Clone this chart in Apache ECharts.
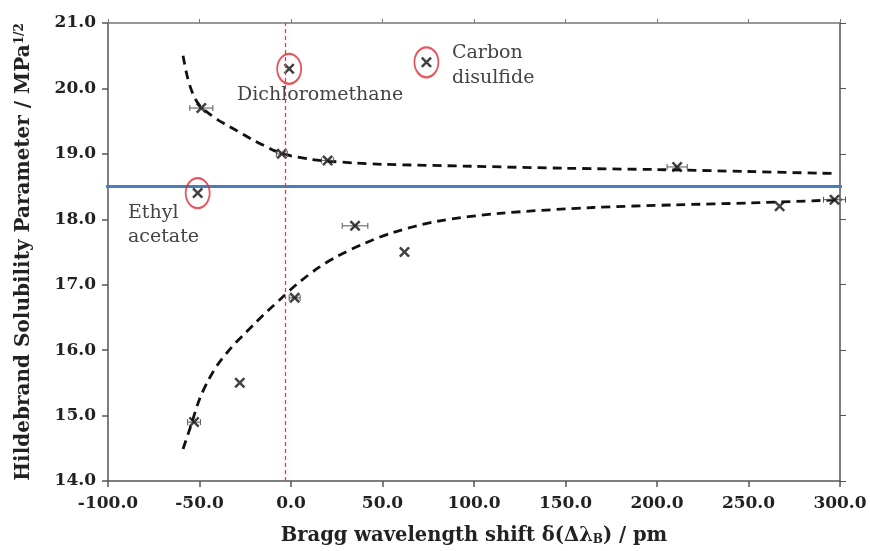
<!DOCTYPE html>
<html>
<head>
<meta charset="utf-8">
<script src="https://cdn.jsdelivr.net/npm/echarts@6/dist/echarts.min.js"></script>
<style>
  html, body { margin: 0; padding: 0; background: #fff; }
  #main { width: 870px; height: 551px; }
</style>
</head>
<body>
<div id="main"></div>
<script>
// measured points (x: Bragg shift in pm, y: solubility parameter)
var upperPts = [[-49, 19.7], [-5, 19.0], [20, 18.9], [211, 18.8]]
var lowerPts = [[-53, 14.9], [-28, 15.5], [2, 16.8], [35, 17.9], [62, 17.5], [267, 18.2], [297, 18.3]]
var circledPts = [[-1, 20.3], [74, 20.4], [-51, 18.4]] // dichloromethane, carbon disulfide, ethyl acetate
// x error bars: [x, y, half width]
var xErrors = [[-49, 19.7, 6.3], [-5, 19.0, 3], [20, 18.9, 3.3], [211, 18.8, 5.5],
  [-53, 14.9, 3.5], [2, 16.8, 3], [35, 17.9, 7], [297, 18.3, 6]]
// dashed trend curves
var upperFit = [[-59, 20.5], [-57, 20.22], [-55, 20.02], [-53, 19.88], [-51, 19.78], [-49, 19.71],
  [-45, 19.62], [-40, 19.52], [-35, 19.44], [-30, 19.36], [-25, 19.28], [-20, 19.2], [-15, 19.13],
  [-10, 19.06], [-5, 19.01], [0, 18.97], [10, 18.92], [20, 18.89], [35, 18.86], [50, 18.84],
  [100, 18.81], [150, 18.78], [200, 18.76], [250, 18.73], [296, 18.7]]
var lowerFit = [[-59, 14.49], [-55, 14.82], [-50, 15.25], [-45, 15.55], [-40, 15.78], [-35, 15.96],
  [-30, 16.12], [-25, 16.26], [-20, 16.4], [-15, 16.54], [-10, 16.67], [-5, 16.8], [0, 16.93],
  [5, 17.05], [15, 17.26], [25, 17.43], [40, 17.63], [56, 17.8], [80, 17.97], [114, 18.09],
  [165, 18.18], [210, 18.22], [251, 18.25], [302, 18.3]]
var refLine = [[-107, 18.5], [305, 18.5]] // blue horizontal level
var zeroShift = -3 // red dashed vertical

var FONT = 'DejaVu Serif'
var crossSymbol = 'path://M0,1.6L1.6,0L5,3.4L8.4,0L10,1.6L6.6,5L10,8.4L8.4,10L5,6.6L1.6,10L0,8.4L3.4,5Z'

var chart = echarts.init(document.getElementById('main'))

var axisLabel = {
  fontFamily: FONT,
  fontWeight: 'bold',
  fontSize: 17,
  color: '#222',
  formatter: function (v) { return v.toFixed(1) }
}

chart.setOption({
  animation: false,
  grid: { left: 108, right: 30, top: 23, bottom: 70 },
  xAxis: [
    {
      type: 'value',
      min: -100,
      max: 300,
      interval: 50,
      position: 'bottom',
      axisLine: { show: true, onZero: false, lineStyle: { color: '#555', width: 1.5 } },
      axisTick: { show: true, length: 6, lineStyle: { color: '#555', width: 1.5 } },
      axisLabel: Object.assign({ margin: 14 }, axisLabel),
      splitLine: { show: false },
      name: 'Bragg wavelength shift δ(Δλ{sub|B}) / pm',
      nameLocation: 'middle',
      nameGap: 45,
      nameTextStyle: {
        fontFamily: FONT,
        fontWeight: 'bold',
        fontSize: 19.5,
        color: '#222',
        rich: {
          sub: { fontFamily: FONT, fontWeight: 'bold', fontSize: 12, color: '#222', verticalAlign: 'bottom', lineHeight: 4 }
        }
      }
    },
    {
      type: 'value',
      min: -100,
      max: 300,
      interval: 50,
      position: 'top',
      axisLine: { show: true, onZero: false, lineStyle: { color: '#777', width: 1.5 } },
      axisTick: { show: true, length: 4, lineStyle: { color: '#777' } },
      axisLabel: { show: false },
      splitLine: { show: false }
    }
  ],
  yAxis: [
    {
      type: 'value',
      min: 14,
      max: 21,
      interval: 1,
      position: 'left',
      axisLine: { show: true, onZero: false, lineStyle: { color: '#555', width: 1.5 } },
      axisTick: { show: true, length: 6, lineStyle: { color: '#555', width: 1.5 } },
      axisLabel: Object.assign({ margin: 12 }, axisLabel),
      splitLine: { show: false },
      name: 'Hildebrand Solubility Parameter / MPa{sup|1/2}',
      nameLocation: 'middle',
      nameGap: 74,
      nameTextStyle: {
        fontFamily: FONT,
        fontWeight: 'bold',
        fontSize: 20,
        color: '#222',
        rich: {
          sup: { fontFamily: FONT, fontWeight: 'bold', fontSize: 12, color: '#222', verticalAlign: 'top', lineHeight: 9 }
        }
      }
    },
    {
      type: 'value',
      min: 14,
      max: 21,
      interval: 1,
      position: 'right',
      axisLine: { show: true, onZero: false, lineStyle: { color: '#555', width: 1.5 } },
      axisTick: { show: true, length: 6, lineStyle: { color: '#555' } },
      axisLabel: { show: false },
      splitLine: { show: false }
    }
  ],
  graphic: [
    { type: 'text', left: 237, top: 86, style: { text: 'Dichloromethane', font: '19px "DejaVu Serif"', fill: '#444' } },
    { type: 'text', left: 452, top: 41, style: { text: 'Carbon\ndisulfide', font: '19px "DejaVu Serif"', fill: '#444', lineHeight: 25 } },
    { type: 'text', left: 128, top: 201, style: { text: 'Ethyl\nacetate', font: '19px "DejaVu Serif"', fill: '#444', lineHeight: 24 } }
  ],
  series: [
    {
      // blue reference level
      type: 'line',
      data: refLine,
      clip: false,
      symbol: 'none',
      lineStyle: { color: '#4a7ebb', width: 3 },
      z: 1,
      markLine: {
        silent: true,
        symbol: 'none',
        label: { show: false },
        lineStyle: { color: '#e8363c', width: 1.2, type: [4, 3], shadowBlur: 6, shadowColor: 'rgba(255,90,90,0.35)' },
        emphasis: { disabled: true },
        data: [{ xAxis: zeroShift }]
      }
    },
    {
      type: 'line',
      data: upperFit,
      smooth: 0.3,
      clip: false,
      symbol: 'none',
      lineStyle: { color: '#111', width: 2.8, type: [9, 6] },
      z: 2
    },
    {
      type: 'line',
      data: lowerFit,
      smooth: 0.3,
      clip: false,
      symbol: 'none',
      lineStyle: { color: '#111', width: 2.8, type: [9, 6] },
      z: 2
    },
    {
      // horizontal error bars
      type: 'custom',
      data: xErrors,
      clip: false,
      z: 3,
      renderItem: function (params, api) {
        var left = api.coord([api.value(0) - api.value(2), api.value(1)])
        var right = api.coord([api.value(0) + api.value(2), api.value(1)])
        var style = { stroke: '#555', lineWidth: 1 }
        return {
          type: 'group',
          children: [
            { type: 'line', shape: { x1: left[0], y1: left[1], x2: right[0], y2: right[1] }, style: style },
            { type: 'line', shape: { x1: left[0], y1: left[1] - 3, x2: left[0], y2: left[1] + 3 }, style: style },
            { type: 'line', shape: { x1: right[0], y1: right[1] - 3, x2: right[0], y2: right[1] + 3 }, style: style }
          ]
        }
      }
    },
    {
      type: 'scatter',
      data: upperPts.concat(lowerPts).concat(circledPts),
      symbol: crossSymbol,
      symbolSize: 11,
      itemStyle: { color: '#111' },
      z: 4
    },
    {
      // red rings around the named solvents
      type: 'scatter',
      data: circledPts,
      symbol: 'circle',
      symbolSize: [24, 30],
      itemStyle: { color: 'rgba(0,0,0,0)', borderColor: '#e02a36', borderWidth: 2 },
      z: 5
    }
  ]
})
</script>
</body>
</html>
